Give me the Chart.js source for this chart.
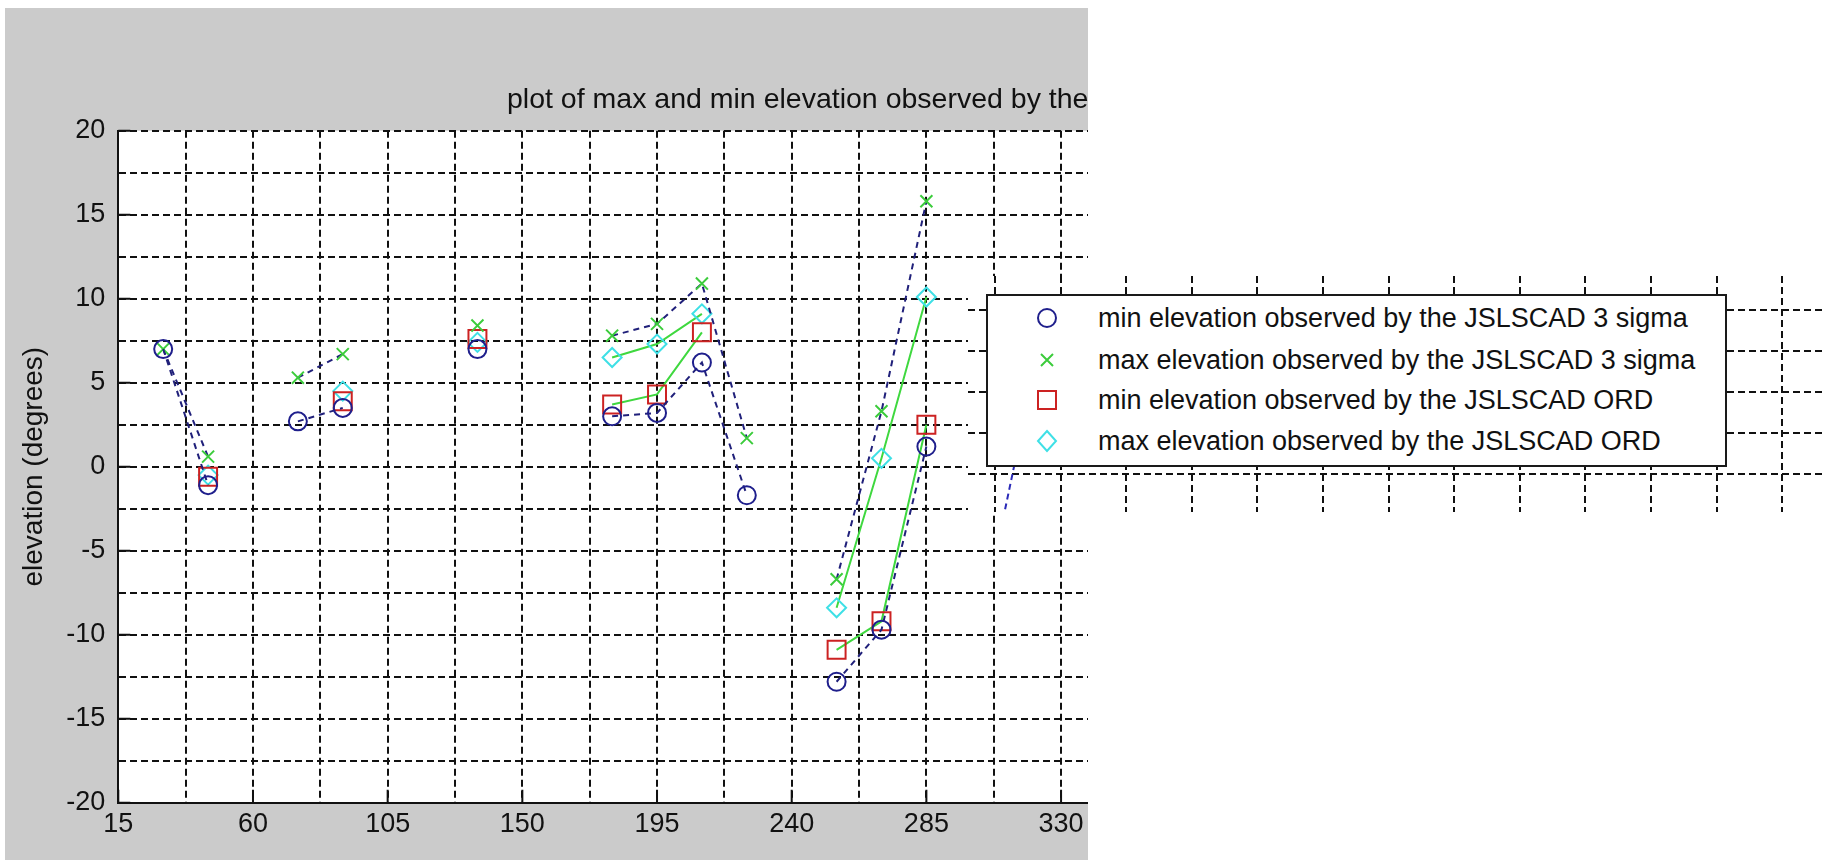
<!DOCTYPE html>
<html>
<head>
<meta charset="utf-8">
<title>max and min elevation</title>
<script src="https://cdn.jsdelivr.net/npm/chart.js@4.4.0/dist/chart.umd.min.js"></script>
<style>
  html, body { margin: 0; padding: 0; background: #fff; }
  body { position: relative; width: 1825px; height: 860px; overflow: hidden; font-family: "Liberation Sans", Arial, sans-serif; }
  #figure { position: absolute; left: 5px; top: 8px; width: 1083px; height: 852px; background: #cbcbcb; }
  #inset { position: absolute; left: 968px; top: 276px; width: 857px; height: 236px; background: #fff; }
  #legend { position: absolute; left: 986px; top: 294px; width: 741px; height: 173px; box-sizing: border-box;
            border: 2px solid #1a1a1a; background: #fff; }
  #legend .row { position: absolute; left: 0; height: 40px; width: 100%; }
  #legend svg { position: absolute; left: 38px; top: 0; }
  #legend span { position: absolute; left: 110px; top: 0; line-height: 40px; font-size: 27px; color: #111; white-space: nowrap; }
</style>
</head>
<body>
<div id="figure"><canvas id="elevChart" width="1083" height="852"></canvas></div>
<div id="inset"><canvas id="insetChart" width="857" height="236"></canvas></div>
<div id="legend"></div>
<script>
// azimuth bins (degrees), null = nothing observed in that bin
const azimuths = [30, 45, 60, 75, 90, 105, 120, 135, 150, 165, 180, 195, 210, 225, 240, 255, 270, 285];
const minSigma = [7.0, -1.1, null, 2.7, 3.5, null, null, 7.0, null, null, 3.0, 3.2, 6.2, -1.7, null, -12.8, -9.7, 1.2];
const maxSigma = [7.0, 0.6, null, 5.3, 6.7, null, null, 8.4, null, null, 7.8, 8.5, 10.9, 1.7, null, -6.7, 3.3, 15.8];
const minOrd   = [null, -0.6, null, null, 3.9, null, null, 7.6, null, null, 3.7, 4.3, 8.0, null, null, -10.9, -9.2, 2.5];
const maxOrd   = [null, -0.5, null, null, 4.5, null, null, 7.4, null, null, 6.5, 7.3, 9.1, null, null, -8.4, 0.5, 10.1];

const seriesNames = [
  'min elevation observed by the JSLSCAD 3 sigma',
  'max elevation observed by the JSLSCAD 3 sigma',
  'min elevation observed by the JSLSCAD ORD',
  'max elevation observed by the JSLSCAD ORD'
];
const titleText = 'plot of max and min elevation observed by the JSLSCAD';

// grid / tick positions
const xGrid = [15, 37.5, 60, 82.5, 105, 127.5, 150, 172.5, 195, 217.5, 240, 262.5, 285, 307.5, 330];
const xLabels = [15, 60, 105, 150, 195, 240, 285, 330];
const yGrid = [-20, -17.5, -15, -12.5, -10, -7.5, -5, -2.5, 0, 2.5, 5, 7.5, 10, 12.5, 15, 17.5, 20];
const yLabels = [-20, -15, -10, -5, 0, 5, 10, 15, 20];

// piece of the pasted second view (behind the legend)
const insetXGrid = [307.5, 330, 352.5, 375, 397.5, 420, 442.5, 465, 487.5, 510, 532.5, 555, 577.5];
const insetYGrid = [0, 2.5, 5, 7.5, 10];
const insetSegX = [317.0, 307.6];
const insetSegY = [3.0, -5.0];

const NAVY = '#1f1f8c';
const DASHLINE = '#20207a';
const GREEN_X = '#3ccc3c';
const RED = '#cc2222';
const CYAN = '#3fe0e6';
const GREEN_LINE = '#3fd83f';
const FONT = '"Liberation Sans", Arial, sans-serif';

const toPoints = (ys) => azimuths.map((x, i) => ({ x: x, y: ys[i] }));

// white axes background inside the grey figure
const plotBackground = {
  id: 'plotBackground',
  beforeDraw(chart) {
    const { ctx, chartArea } = chart;
    ctx.save();
    ctx.fillStyle = '#fff';
    ctx.fillRect(chartArea.left, chartArea.top, chartArea.right - chartArea.left, chartArea.bottom - chartArea.top);
    ctx.restore();
  }
};

const innerTicks = {
  id: 'innerTicks',
  beforeDatasetsDraw(chart) {
    const { ctx, chartArea, scales } = chart;
    ctx.save();
    ctx.strokeStyle = '#111';
    ctx.lineWidth = 2;
    ctx.beginPath();
    yLabels.forEach((v) => {
      const py = scales.y.getPixelForValue(v);
      ctx.moveTo(chartArea.left, py);
      ctx.lineTo(chartArea.left + 12, py);
    });
    xLabels.forEach((v) => {
      const px = scales.x.getPixelForValue(v);
      ctx.moveTo(px, chartArea.bottom);
      ctx.lineTo(px, chartArea.bottom - 13);
    });
    ctx.stroke();
    ctx.restore();
  }
};

const figureTitle = {
  id: 'figureTitle',
  afterDraw(chart) {
    const ctx = chart.ctx;
    ctx.save();
    ctx.font = '28.5px ' + FONT;
    ctx.fillStyle = '#111';
    ctx.textBaseline = 'alphabetic';
    ctx.textAlign = 'left';
    ctx.fillText(titleText, 502, 100);
    ctx.restore();
  }
};

new Chart(document.getElementById('elevChart').getContext('2d'), {
  type: 'line',
  data: {
    datasets: [
      {
        label: seriesNames[0],
        data: toPoints(minSigma),
        borderColor: DASHLINE, borderWidth: 2, borderDash: [6, 5],
        pointStyle: 'circle', pointRadius: 9, pointBorderWidth: 2,
        pointBorderColor: NAVY, pointBackgroundColor: 'rgba(0,0,0,0)'
      },
      {
        label: seriesNames[1],
        data: toPoints(maxSigma),
        borderColor: DASHLINE, borderWidth: 2, borderDash: [6, 5],
        pointStyle: 'crossRot', pointRadius: 8.5, pointBorderWidth: 2,
        pointBorderColor: GREEN_X, pointBackgroundColor: 'rgba(0,0,0,0)'
      },
      {
        label: seriesNames[2],
        data: toPoints(minOrd),
        borderColor: GREEN_LINE, borderWidth: 2,
        pointStyle: 'rect', pointRadius: 12.7, pointBorderWidth: 2,
        pointBorderColor: RED, pointBackgroundColor: 'rgba(0,0,0,0)'
      },
      {
        label: seriesNames[3],
        data: toPoints(maxOrd),
        borderColor: GREEN_LINE, borderWidth: 2,
        pointStyle: 'rectRot', pointRadius: 9.5, pointBorderWidth: 2,
        pointBorderColor: CYAN, pointBackgroundColor: 'rgba(0,0,0,0)'
      }
    ]
  },
  options: {
    responsive: false,
    animation: false,
    spanGaps: false,
    elements: { line: { tension: 0 } },
    layout: { autoPadding: false, padding: { top: 122.7, left: 0, right: 0, bottom: 0 } },
    plugins: { legend: { display: false }, tooltip: { enabled: false } },
    scales: {
      x: {
        type: 'linear', min: 15, max: 339,
        afterBuildTicks: (scale) => { scale.ticks = xGrid.map((v) => ({ value: v })); },
        afterFit: (scale) => { scale.height = 57.3; scale.paddingLeft = 0; scale.paddingRight = 0; },
        grid: { color: '#111', lineWidth: 2, drawTicks: false },
        border: { display: true, color: '#111', width: 2, dash: [7, 4] },
        ticks: {
          autoSkip: false, maxRotation: 0, padding: 6, color: '#111',
          font: { family: FONT, size: 27 },
          callback: (v) => (xLabels.includes(v) ? String(v) : '')
        }
      },
      y: {
        type: 'linear', min: -20, max: 20,
        afterBuildTicks: (scale) => { scale.ticks = yGrid.map((v) => ({ value: v })); },
        afterFit: (scale) => { scale.width = 113.3; scale.paddingTop = 0; scale.paddingBottom = 0; },
        grid: { color: '#111', lineWidth: 2, drawTicks: false },
        border: { display: true, color: '#111', width: 2, dash: [7, 4] },
        ticks: {
          autoSkip: false, padding: 13, color: '#111',
          font: { family: FONT, size: 27 },
          callback: (v) => (yLabels.includes(v) ? String(v) : '')
        },
        title: {
          display: true, text: 'elevation (degrees)', color: '#111',
          font: { family: FONT, size: 28 }, padding: { top: 12, bottom: 0 }
        }
      }
    }
  },
  plugins: [plotBackground, innerTicks, figureTitle]
});

new Chart(document.getElementById('insetChart').getContext('2d'), {
  type: 'line',
  data: {
    datasets: [{
      label: seriesNames[0],
      data: insetSegX.map((x, i) => ({ x: x, y: insetSegY[i] })),
      borderColor: '#2a2ab8', borderWidth: 2, borderDash: [6, 4],
      pointRadius: 0
    }]
  },
  options: {
    responsive: false,
    animation: false,
    layout: { autoPadding: false, padding: 0 },
    plugins: { legend: { display: false }, tooltip: { enabled: false } },
    scales: {
      x: {
        type: 'linear', min: 298.24, max: 592.18,
        afterBuildTicks: (scale) => { scale.ticks = insetXGrid.map((v) => ({ value: v })); },
        afterFit: (scale) => { scale.height = 0; scale.paddingLeft = 0; scale.paddingRight = 0; },
        grid: { color: '#111', lineWidth: 2, drawTicks: false },
        border: { display: false, dash: [7, 4] },
        ticks: { display: false }
      },
      y: {
        type: 'linear', min: -2.3, max: 12.1,
        afterBuildTicks: (scale) => { scale.ticks = insetYGrid.map((v) => ({ value: v })); },
        afterFit: (scale) => { scale.width = 0; scale.paddingTop = 0; scale.paddingBottom = 0; },
        grid: { color: '#111', lineWidth: 2, drawTicks: false },
        border: { display: false, dash: [7, 4] },
        ticks: { display: false }
      }
    }
  }
});

// legend box (markers only, like the figure)
const markerSvgs = [
  '<circle cx="21" cy="20" r="9" fill="none" stroke="' + NAVY + '" stroke-width="2"/>',
  '<path d="M15 14 L27 26 M27 14 L15 26" stroke="' + GREEN_X + '" stroke-width="2"/>',
  '<rect x="12" y="11" width="18" height="18" fill="none" stroke="' + RED + '" stroke-width="2"/>',
  '<path d="M21 10 L30 20 L21 30 L12 20 Z" fill="none" stroke="' + CYAN + '" stroke-width="2"/>'
];
const rowCenters = [22, 64, 104, 145];
const legendBox = document.getElementById('legend');
seriesNames.forEach((name, i) => {
  const row = document.createElement('div');
  row.className = 'row';
  row.style.top = (rowCenters[i] - 20) + 'px';
  row.innerHTML = '<svg width="42" height="40">' + markerSvgs[i] + '</svg><span>' + name + '</span>';
  legendBox.appendChild(row);
});
</script>
</body>
</html>
